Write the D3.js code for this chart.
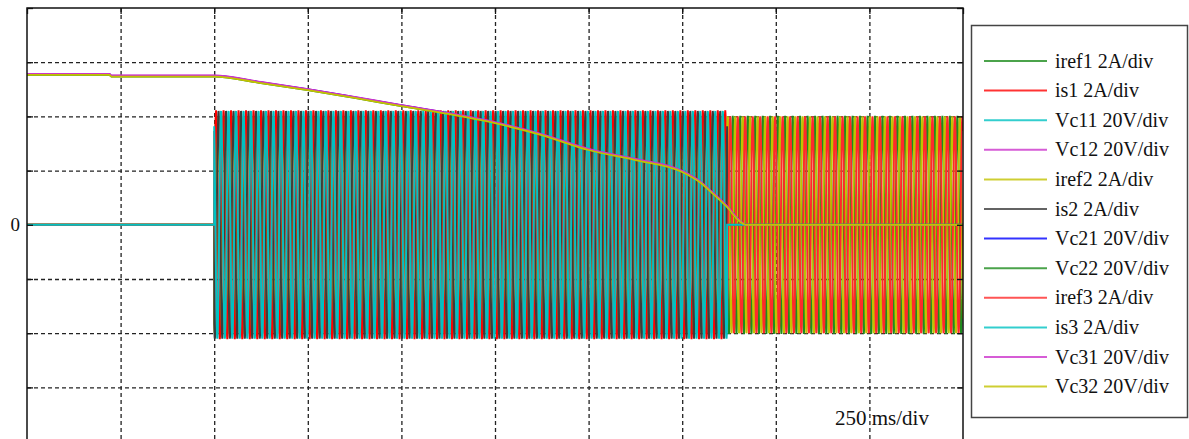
<!DOCTYPE html>
<html>
<head>
<meta charset="utf-8">
<script src="https://cdn.jsdelivr.net/npm/d3@7"></script>
<style>
  html, body { margin: 0; padding: 0; background: #fff; }
  svg { display: block; }
  text { font-family: "Liberation Serif", "Times New Roman", serif; fill: #111; }
</style>
</head>
<body>
<div id="chart"></div>
<script>
// 圖例名稱、每格刻度與顏色（依繪圖順序）
const seriesNames = ["iref1 2A/div", "is1 2A/div", "Vc11 20V/div", "Vc12 20V/div",
                     "iref2 2A/div", "is2 2A/div", "Vc21 20V/div", "Vc22 20V/div",
                     "iref3 2A/div", "is3 2A/div", "Vc31 20V/div", "Vc32 20V/div"];
const unitsPerDiv = [2, 2, 20, 20, 2, 2, 20, 20, 2, 2, 20, 20];
const seriesColors = ["#1e8c1e", "#ff0000", "#00c2c2", "#cc33cc",
                      "#c2c200", "#3c3c3c", "#0000ff", "#1e8c1e",
                      "#ff2a2a", "#00c2c2", "#cc33cc", "#c2c200"];

// 時間軸 250 ms/div，縱軸 8 格
const timeTicks = [0, 0.25, 0.5, 0.75, 1.0, 1.25, 1.5, 1.75, 2.0, 2.25, 2.5];
const divTicks = [-4, -3, -2, -1, 0, 1, 2, 3, 4];

// 電流：50 Hz 三相，讀圖得到的幅值與時段
const lineFreq = 50;            // Hz
const currentOn = 0.5;          // s，電流開始
const isOff = 1.87;             // s，is 歸零
const endTime = 2.5;            // s
const phaseDeg = [0, -120, 120];
const isAmplitude = [4.2, 4.2, 4.2];     // A
const irefAmplitude = [4.0, 4.0, 4.0];   // A

// 電容電壓（V），沿曲線讀取
const vcTime  = [0, 0.22, 0.225, 0.5, 0.625, 0.75, 0.875, 1.0, 1.125, 1.25, 1.375, 1.5, 1.625, 1.75, 1.8, 1.83, 1.87, 1.9, 1.92, 2.5];
const vcValue = [55.4, 55.4, 54.8, 54.8, 52.4, 49.8, 46.9, 43.9, 41.0, 37.6, 33.2, 27.7, 24.0, 19.6, 15.5, 11.8, 6.6, 1.8, 0, 0];
// 各電容曲線的微小偏移（V）：Vc11, Vc12, Vc21, Vc22, Vc31, Vc32
const vcOffset = [0.1, 0.25, 0.15, -0.1, 0.3, -0.1];

function drawScope(containerSelector) {
  const W = 1189, H = 439;
  const plot = {left: 27, top: 8, right: 963, bottom: 441.6};

  const svg = d3.select(containerSelector).append("svg")
      .attr("width", W)
      .attr("height", H);

  const x = d3.scaleLinear().domain([0, endTime]).range([plot.left, plot.right]);
  const y = d3.scaleLinear().domain([-4, 4]).range([plot.bottom, plot.top]);

  svg.append("defs").append("clipPath").attr("id", "plot-clip")
    .append("rect")
      .attr("x", plot.left).attr("y", plot.top)
      .attr("width", plot.right - plot.left)
      .attr("height", plot.bottom - plot.top);

  // 虛線格線
  const gridX = svg.append("g")
      .attr("transform", `translate(0,${plot.top})`)
      .call(d3.axisBottom(x).tickValues(timeTicks.slice(1, -1))
        .tickSize(plot.bottom - plot.top).tickFormat(""));
  const gridY = svg.append("g")
      .attr("transform", `translate(${plot.left},0)`)
      .call(d3.axisRight(y).tickValues(divTicks.slice(1, -1))
        .tickSize(plot.right - plot.left).tickFormat(""));
  [gridX, gridY].forEach(g => {
    g.select(".domain").remove();
    g.selectAll("line")
      .attr("stroke", "#222")
      .attr("stroke-width", 1.3)
      .attr("stroke-dasharray", "4,3");
  });

  // 波形資料
  const series = seriesNames.map((name, i) => ({name, color: seriesColors[i], perDiv: unitsPerDiv[i], points: []}));
  const dt = 0.0004;
  phaseDeg.forEach((ph, p) => {
    const w = 2 * Math.PI * lineFreq, phi = ph * Math.PI / 180;
    const iref = series[p * 4], is = series[p * 4 + 1];
    iref.points.push([0, 0], [currentOn, 0]);
    is.points.push([0, 0], [currentOn, 0]);
    d3.range(currentOn, endTime + dt / 2, dt).forEach(t => {
      iref.points.push([t, irefAmplitude[p] * Math.sin(w * (t - currentOn) + phi)]);
      if (t <= isOff) is.points.push([t, isAmplitude[p] * Math.sin(w * (t - currentOn) + phi)]);
    });
    is.points.push([isOff, 0], [endTime, 0]);
    [0, 1].forEach(k => {
      const s = series[p * 4 + 2 + k];
      const off = vcOffset[p * 2 + k];
      s.points = vcTime.map((t, j) => [t, vcValue[j] === 0 ? 0 : vcValue[j] + off]);
      s.isVc = true;
    });
  });

  const line = d3.line().x(d => x(d[0]));
  const g = svg.append("g").attr("clip-path", "url(#plot-clip)");
  g.selectAll("path.trace")
    .data(series)
    .join("path")
      .attr("class", "trace")
      .attr("fill", "none")
      .attr("stroke", d => d.color)
      .attr("stroke-width", d => d.isVc ? 1.8 : 1.9)
      .attr("d", d => line.y(p => y(p[1] / d.perDiv)).curve(d.isVc ? d3.curveMonotoneX : d3.curveLinear)(d.points));

  // 外框與內側刻度
  svg.append("rect")
      .attr("x", plot.left).attr("y", plot.top)
      .attr("width", plot.right - plot.left)
      .attr("height", plot.bottom - plot.top)
      .attr("fill", "none")
      .attr("stroke", "#111")
      .attr("stroke-width", 1.5);
  const tickLeft = svg.append("g").attr("transform", `translate(${plot.left},0)`)
      .call(d3.axisRight(y).tickValues(divTicks).tickSize(6).tickFormat(""));
  const tickRight = svg.append("g").attr("transform", `translate(${plot.right},0)`)
      .call(d3.axisLeft(y).tickValues(divTicks).tickSize(6).tickFormat(""));
  const tickTop = svg.append("g").attr("transform", `translate(0,${plot.top})`)
      .call(d3.axisBottom(x).tickValues(timeTicks).tickSize(6).tickFormat(""));
  [tickLeft, tickRight, tickTop].forEach(t => {
    t.select(".domain").remove();
    t.selectAll("line").attr("stroke", "#111").attr("stroke-width", 1.3);
  });

  svg.append("text")
      .attr("x", 20).attr("y", y(0))
      .attr("dy", "0.35em")
      .attr("text-anchor", "end")
      .style("font-size", "19px")
      .text("0");

  svg.append("text")
      .attr("x", 835).attr("y", 425)
      .style("font-size", "21px")
      .text("250 ms/div");

  // 圖例
  const legend = svg.append("g");
  legend.append("rect")
      .attr("x", 971.5).attr("y", 25.5)
      .attr("width", 216).attr("height", 392)
      .attr("fill", "#fff")
      .attr("stroke", "#444")
      .attr("stroke-width", 1.5);
  const rows = legend.selectAll("g.row")
    .data(series)
    .join("g")
      .attr("class", "row")
      .attr("transform", (d, i) => `translate(0,${61 + i * 29.6})`);
  rows.append("line")
      .attr("x1", 984).attr("x2", 1047)
      .attr("stroke", d => d.color)
      .attr("stroke-opacity", 0.8)
      .attr("stroke-width", 2);
  rows.append("text")
      .attr("x", 1055)
      .attr("dy", "0.33em")
      .style("font-size", "20px")
      .text(d => d.name);
}

drawScope("#chart");
</script>
</body>
</html>
